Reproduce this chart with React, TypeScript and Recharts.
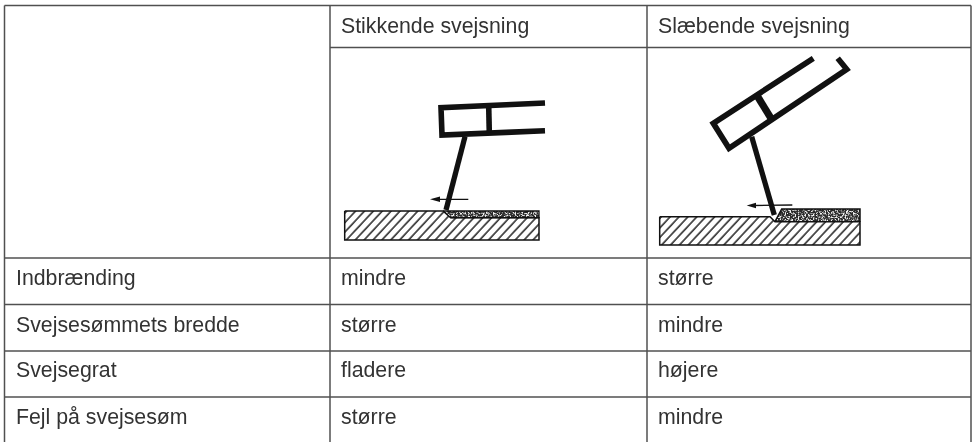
import { ComposedChart, Line, Area, Scatter, XAxis, YAxis, ReferenceLine } from "recharts";

// Table text
const headers = ["Stikkende svejsning", "Slæbende svejsning"];
const rowLabels = ["Indbrænding", "Svejsesømmets bredde", "Svejsegrat", "Fejl på svejsesøm"];
const pushValues = ["mindre", "større", "fladere", "større"];
const dragValues = ["større", "mindre", "højere", "mindre"];

// Table layout, in picture units
const columnEdges = [4.5, 330, 647, 971];
const rowEdges = [5.5, 47.5, 258, 304.5, 351, 397];
const textColumns = [16, 341, 658];
const headerBaseline = 33;
const rowBaselines = [285, 331.5, 377, 424];

// Left sketch (pushing)
const pushHead = [{ x: 545, y: 103 }, { x: 441, y: 107.7 }, { x: 442, y: 135 }, { x: 545, y: 130.7 }];
const pushDivider = [{ x: 488.7, y: 106 }, { x: 489.3, y: 132.7 }];
const pushWire = [{ x: 465, y: 136.7 }, { x: 446, y: 210 }];
const pushArrow = [{ x: 436, y: 199.3 }, { x: 468.3, y: 199.3 }];
const pushArrowHead = [{ x: 430, range: [199.3, 199.3] }, { x: 440, range: [196.6, 202] }];
const pushPlate = [
  { x: 344.7, y: 211 }, { x: 443, y: 211 }, { x: 450.7, y: 217.7 }, { x: 539, y: 217.7 },
  { x: 539, y: 240 }, { x: 344.7, y: 240 }, { x: 344.7, y: 211 },
];
const pushSurface = pushPlate.slice(0, 4);
const pushBead = [{ x: 450.7, y: 217.7 }, { x: 539, y: 217.7 }, { x: 539, y: 211 }, { x: 443, y: 211 }];
const pushBeadArea = [{ x: 443, y: 211 }, { x: 450.7, y: 217.7 }, { x: 539, y: 217.7 }];

// Right sketch (dragging)
const dragHead = [{ x: 813.3, y: 58.3 }, { x: 713.3, y: 123.3 }, { x: 729, y: 148.3 }, { x: 846.7, y: 69.3 }, { x: 837.7, y: 58.3 }];
const dragDivider = [{ x: 756.7, y: 95 }, { x: 771, y: 118.3 }];
const dragWire = [{ x: 751.7, y: 136.7 }, { x: 774.3, y: 215 }];
const dragArrow = [{ x: 752, y: 205.5 }, { x: 792.3, y: 205 }];
const dragArrowHead = [{ x: 746.7, range: [205.5, 205.5] }, { x: 756, range: [202.8, 208.2] }];
const dragPlate = [
  { x: 659.7, y: 216.7 }, { x: 770, y: 216.7 }, { x: 775, y: 221.7 }, { x: 860, y: 221.7 },
  { x: 860, y: 245 }, { x: 659.7, y: 245 }, { x: 659.7, y: 216.7 },
];
const dragSurface = dragPlate.slice(0, 4);
const dragBead = [{ x: 775, y: 221.7 }, { x: 781.7, y: 209 }, { x: 860, y: 209 }, { x: 860, y: 221.7 }];
const dragBeadArea = [{ x: 775, y: 221.7 }, { x: 781.7, y: 209 }, { x: 860, y: 209 }];

const INK = "#111111";
const TEXT = "#333333";
const RULE = "#505050";

const cells = [
  ...headers.map((label, i) => ({ x: textColumns[i + 1], y: headerBaseline, label })),
  ...rowLabels.map((label, i) => ({ x: textColumns[0], y: rowBaselines[i], label })),
  ...pushValues.map((label, i) => ({ x: textColumns[1], y: rowBaselines[i], label })),
  ...dragValues.map((label, i) => ({ x: textColumns[2], y: rowBaselines[i], label })),
];

const CellText = (props: any) => (
  <text x={props.cx} y={props.cy} fontFamily="Liberation Sans" fontSize={21.3} fill={TEXT}>
    {props.payload.label}
  </text>
);

const stroke = (data: { x: number; y: number }[], width: number, key: string) => (
  <Line
    key={key}
    data={data}
    dataKey="y"
    type="linear"
    stroke={INK}
    strokeWidth={width}
    strokeLinejoin="miter"
    dot={false}
    activeDot={false}
    legendType="none"
    isAnimationActive={false}
  />
);

const App = () => {
  return (
    <div style={{ position: "absolute", left: 0, top: 0, width: 973, height: 442, background: "#fff", filter: "blur(0.35px)" }}>
      <ComposedChart width={973} height={442} margin={{ top: 0, right: 0, bottom: 0, left: 0 }}>
        <defs>
          <pattern id="hatch" patternUnits="userSpaceOnUse" width={6.5} height={6.5} patternTransform="rotate(43)">
            <line x1={1} y1={0} x2={1} y2={6.5} stroke={INK} strokeWidth={1.4} />
          </pattern>
          <filter id="grain" x="0" y="0" width="100%" height="100%">
            <feTurbulence type="fractalNoise" baseFrequency="0.6" numOctaves={2} seed={4} />
            <feColorMatrix type="matrix" values="0 0 0 0 0.88  0 0 0 0 0.88  0 0 0 0 0.88  3.5 3.5 0 0 -3.3" />
          </filter>
          <pattern id="bead" patternUnits="userSpaceOnUse" width={120} height={40}>
            <rect width={120} height={40} fill="#2a2a2a" />
            <rect width={120} height={40} filter="url(#grain)" />
          </pattern>
        </defs>
        <XAxis type="number" dataKey="x" domain={[0, 973]} hide />
        <YAxis type="number" domain={[0, 442]} reversed hide />

        {columnEdges.map((x, i) => (
          <ReferenceLine key={`c${i}`} segment={[{ x, y: rowEdges[0] }, { x, y: 442 }]} stroke={RULE} strokeWidth={1.5} />
        ))}
        {rowEdges.map((y, i) => (
          <ReferenceLine
            key={`r${i}`}
            segment={[{ x: i === 1 ? columnEdges[1] : columnEdges[0], y }, { x: columnEdges[3], y }]}
            stroke={RULE}
            strokeWidth={1.5}
          />
        ))}

        <Area data={pushSurface} dataKey="y" baseValue={240} type="linear" stroke="none" fill="url(#hatch)" fillOpacity={1} dot={false} activeDot={false} isAnimationActive={false} />
        <Area data={dragSurface} dataKey="y" baseValue={245} type="linear" stroke="none" fill="url(#hatch)" fillOpacity={1} dot={false} activeDot={false} isAnimationActive={false} />
        <Area data={pushBeadArea} dataKey="y" baseValue={211} type="linear" stroke="none" fill="url(#bead)" fillOpacity={1} dot={false} activeDot={false} isAnimationActive={false} />
        <Area data={dragBeadArea} dataKey="y" baseValue={221.7} type="linear" stroke="none" fill="url(#bead)" fillOpacity={1} dot={false} activeDot={false} isAnimationActive={false} />
        <Area data={pushArrowHead} dataKey="range" type="linear" stroke="none" fill={INK} fillOpacity={1} dot={false} activeDot={false} isAnimationActive={false} />
        <Area data={dragArrowHead} dataKey="range" type="linear" stroke="none" fill={INK} fillOpacity={1} dot={false} activeDot={false} isAnimationActive={false} />

        {stroke(pushPlate, 1.5, "pushPlate")}
        {stroke(dragPlate, 1.5, "dragPlate")}
        {stroke(pushBead, 1.3, "pushBead")}
        {stroke(dragBead, 1.5, "dragBead")}
        {stroke(pushHead, 5.6, "pushHead")}
        {stroke(pushDivider, 5.6, "pushDivider")}
        {stroke(pushWire, 5.3, "pushWire")}
        {stroke(pushArrow, 1.3, "pushArrow")}
        {stroke(dragHead, 5.7, "dragHead")}
        {stroke(dragDivider, 7.2, "dragDivider")}
        {stroke(dragWire, 5.3, "dragWire")}
        {stroke(dragArrow, 1.3, "dragArrow")}

        <Scatter data={cells} dataKey="y" shape={CellText} isAnimationActive={false} />
      </ComposedChart>
    </div>
  );
};

export default App;
